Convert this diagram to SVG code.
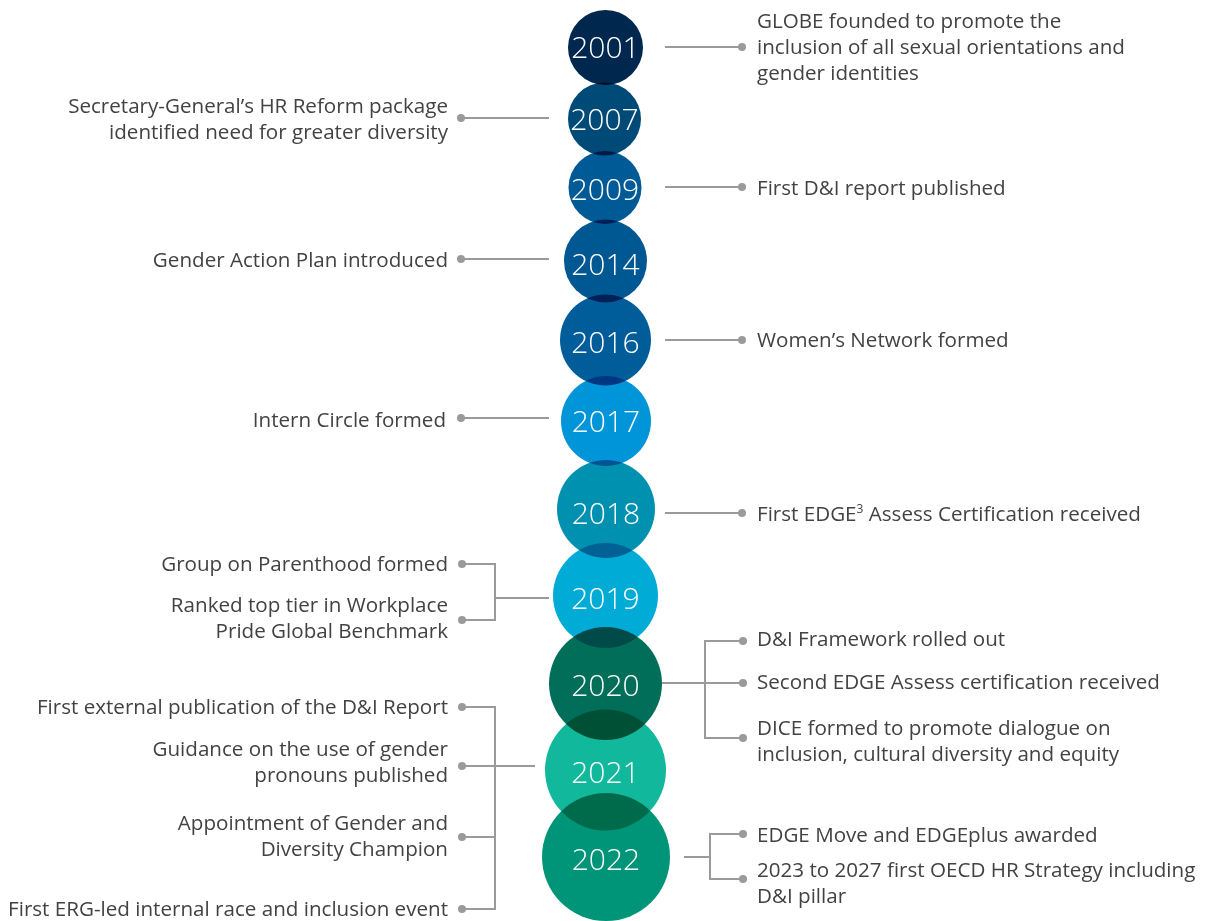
<svg xmlns="http://www.w3.org/2000/svg" width="1208" height="921" viewBox="0 0 1208 921">
<style>
.bg{fill:#ffffff}
.c{mix-blend-mode:multiply}
.yr{font-family:"Open Sans","Noto Sans",sans-serif;font-size:30px;font-weight:300;fill:#ffffff;text-anchor:middle}
.t{font-family:"Open Sans","Noto Sans",sans-serif;font-size:20.6px;fill:#424242}
.l{text-anchor:end}
.ln{fill:none;stroke:#9a9a9a;stroke-width:2}
.dot{fill:#9a9a9a}
</style>
<rect class="bg" x="0" y="0" width="1208" height="921"/>
<g id="connectors">
<path class="ln" d="M665 47H742M461 118H549M665 187H742M461 259H549M665 340H742M461 418H549M665 513H742"/>
<path class="ln" d="M462 564H495V620H462M495 598H549"/>
<path class="ln" d="M662 683H705M743 641H705V738H743M705 683H743"/>
<path class="ln" d="M462 707H495V909H462M462 766H535M462 837H495"/>
<path class="ln" d="M684 857H710M743 834H710V879H743"/>
<g class="dot">
<circle cx="742" cy="47" r="4"/><circle cx="461" cy="118" r="4"/><circle cx="742" cy="187" r="4"/><circle cx="461" cy="259" r="4"/><circle cx="742" cy="340" r="4"/><circle cx="461" cy="418" r="4"/><circle cx="742" cy="513" r="4"/>
<circle cx="462" cy="564" r="4"/><circle cx="462" cy="620" r="4"/>
<circle cx="743" cy="641" r="4"/><circle cx="743" cy="683" r="4"/><circle cx="743" cy="738" r="4"/>
<circle cx="462" cy="707" r="4"/><circle cx="462" cy="766" r="4"/><circle cx="462" cy="837" r="4"/><circle cx="462" cy="909" r="4"/>
<circle cx="743" cy="834" r="4"/><circle cx="743" cy="879" r="4"/>
</g>
</g>
<g id="n2001"><circle class="c" cx="605.5" cy="47.5" r="37.5" fill="#00284f"/><text class="yr" x="605.5" y="58">2001</text>
<text class="t"><tspan x="757" y="28">GLOBE founded to promote the</tspan><tspan x="757" y="54">inclusion of all sexual orientations and</tspan><tspan x="757" y="80">gender identities</tspan></text></g>
<g id="n2007"><circle class="c" cx="604.5" cy="119" r="36.5" fill="#004a78"/><text class="yr" x="604.5" y="130">2007</text>
<text class="t l"><tspan x="448" y="113">Secretary-General’s HR Reform package</tspan><tspan x="448" y="139">identified need for greater diversity</tspan></text></g>
<g id="n2009"><circle class="c" cx="605" cy="187.5" r="36.5" fill="#005a96"/><text class="yr" x="605" y="200">2009</text>
<text class="t" x="757" y="195">First D&amp;I report published</text></g>
<g id="n2014"><circle class="c" cx="605.5" cy="261" r="41.5" fill="#005892"/><text class="yr" x="605.5" y="274.5">2014</text>
<text class="t l" x="448" y="267">Gender Action Plan introduced</text></g>
<g id="n2016"><circle class="c" cx="605.5" cy="340" r="45.5" fill="#005d99"/><text class="yr" x="605.5" y="352.5">2016</text>
<text class="t" x="757" y="347">Women’s Network formed</text></g>
<g id="n2017"><circle class="c" cx="606" cy="421" r="45" fill="#0095d8"/><text class="yr" x="606" y="431.5">2017</text>
<text class="t l" x="446" y="427">Intern Circle formed</text></g>
<g id="n2018"><circle class="c" cx="606" cy="509" r="49" fill="#0090b0"/><text class="yr" x="606" y="523.5">2018</text>
<text class="t" x="757" y="521">First EDGE<tspan font-size="12" dy="-8">3</tspan><tspan dy="8"> Assess Certification received</tspan></text></g>
<g id="n2019"><circle class="c" cx="605.5" cy="595.5" r="52.5" fill="#00acd6"/><text class="yr" x="605.5" y="609">2019</text>
<text class="t l" x="448" y="571">Group on Parenthood formed</text>
<text class="t l"><tspan x="448" y="612">Ranked top tier in Workplace</tspan><tspan x="448" y="638">Pride Global Benchmark</tspan></text></g>
<g id="n2020"><circle class="c" cx="605.5" cy="683.5" r="56.5" fill="#006e58"/><text class="yr" x="605.5" y="696">2020</text>
<text class="t" x="757" y="646">D&amp;I Framework rolled out</text>
<text class="t" x="757" y="689">Second EDGE Assess certification received</text>
<text class="t"><tspan x="757" y="735">DICE formed to promote dialogue on</tspan><tspan x="757" y="761">inclusion, cultural diversity and equity</tspan></text></g>
<g id="n2021"><circle class="c" cx="605.5" cy="770" r="60.5" fill="#12b89c"/><text class="yr" x="605.5" y="783">2021</text>
<text class="t l" x="448" y="714">First external publication of the D&amp;I Report</text>
<text class="t l"><tspan x="448" y="756">Guidance on the use of gender</tspan><tspan x="448" y="782">pronouns published</tspan></text>
<text class="t l"><tspan x="448" y="830">Appointment of Gender and</tspan><tspan x="448" y="856">Diversity Champion</tspan></text>
<text class="t l" x="448" y="916">First ERG-led internal race and inclusion event</text></g>
<g id="n2022"><circle class="c" cx="606" cy="857" r="64" fill="#009479"/><text class="yr" x="606" y="870">2022</text>
<text class="t" x="757" y="842">EDGE Move and EDGEplus awarded</text>
<text class="t"><tspan x="757" y="877">2023 to 2027 first OECD HR Strategy including</tspan><tspan x="757" y="903">D&amp;I pillar</tspan></text></g>
</svg>
